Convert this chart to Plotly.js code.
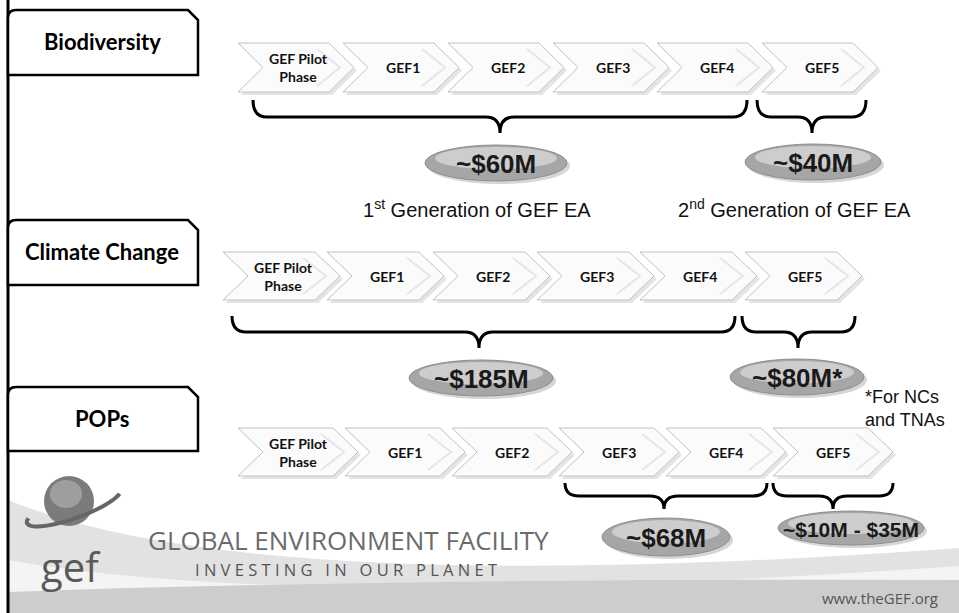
<!DOCTYPE html>
<html><head><meta charset="utf-8">
<script src="https://cdn.plot.ly/plotly-3.0.1.min.js"></script>
<style>html,body{margin:0;padding:0;background:#fff}#chart{width:959px;height:613px}</style>
</head><body><div id="chart"></div>
<script>
// ---------- data ----------
const sectors = ['Biodiversity', 'Climate Change', 'POPs'];
const phases = ['GEF Pilot<br>Phase', 'GEF1', 'GEF2', 'GEF3', 'GEF4', 'GEF5'];
const groupFirstPhase = [[0, 5], [0, 5], [3, 5]];
const groupLastPhase = [[4, 5], [4, 5], [4, 5]];
const fundingLabels = [['~$60M', '~$40M'], ['~$185M', '~$80M*'], ['~$68M', '~$10M - $35M']];
const generationLabels = ['1<sup>st</sup> Generation of GEF EA', '2<sup>nd</sup> Generation of GEF EA'];
const footnote = '*For NCs<br>and TNAs';
const orgName = 'GLOBAL ENVIRONMENT FACILITY';
const tagline = 'I N V E S T I N G   I N   O U R   P L A N E T';
const website = 'www.theGEF.org';
const logoText = 'gef';

// ---------- geometry (layout only) ----------
const boxY = [[10, 75], [220, 285], [387, 451]];
const rowY = [[43, 92], [252, 300], [428, 476]];
const rowLeft = [[238, 343, 448, 553, 657, 762], [223, 327, 433, 537, 640, 745], [238, 345, 452, 559, 666, 773]];
const bodyW = [91, 92, 95];
const notch = 25;
const braceX = [[[253, 747, 500], [757, 866, 812]], [[232, 735, 479], [742, 855, 798]], [[565, 767, 664], [773, 893, 833]]];
const braceY = [[100, 117, 133], [316, 332, 348], [483, 496, 509]];
const ellipse = [[[496, 163, 71, 18], [813, 162, 68, 18]], [[481, 378, 72, 18], [797, 377, 67, 18]], [[666, 537, 64, 19], [851, 528, 73, 17]]];

const shapes = [];
const ann = [];

// footer swoosh background
shapes.push({type: 'path', layer: 'below', path: 'M 8,500 Q 250,600 959,548 L 959,613 L 8,613 Z', fillcolor: '#e2e2e2', line: {width: 0}});
shapes.push({type: 'path', layer: 'below', path: 'M 8,560 Q 300,612 959,566 L 959,613 L 8,613 Z', fillcolor: '#f4f4f4', line: {width: 0}});
shapes.push({type: 'path', layer: 'below', path: 'M 8,592 Q 400,578 959,580 L 959,613 L 8,613 Z', fillcolor: '#cdcdcd', line: {width: 0}});

// left vertical rule
shapes.push({type: 'line', x0: 8, x1: 8, y0: 0, y1: 613, line: {color: '#000', width: 3}});

sectors.forEach((s, i) => {
  const [t, b] = boxY[i];
  shapes.push({type: 'path', path: `M 8,${b} L 8,${t + 8} Q 8,${t} 16,${t} L 188,${t} L 198,${t + 10} L 198,${b} Z`,
    fillcolor: '#fff', line: {color: '#000', width: 2.5}});
  ann.push({x: 102, y: (t + b) / 2 - 1, text: '<b>' + s + '</b>', font: {family: 'Lato, sans-serif', size: 22, color: '#000'}});

  const [T, B] = rowY[i];
  const M = (T + B) / 2;
  const W = bodyW[i];
  phases.forEach((p, j) => {
    const L = rowLeft[i][j];
    shapes.push({type: 'path', path: `M ${L + 3},${T + 3} L ${L + W + 3},${T + 3} L ${L + W + notch + 3},${M + 3} L ${L + W + 3},${B + 3} L ${L + 3},${B + 3} L ${L + notch + 3},${M + 3} Z`,
      fillcolor: '#e4e4e4', line: {width: 0}});
    shapes.push({type: 'path', path: `M ${L},${T} L ${L + W},${T} L ${L + W + notch},${M} L ${L + W},${B} L ${L},${B} L ${L + notch},${M} Z`,
      fillcolor: '#fbfbfb', line: {color: '#c2c2c2', width: 1}});
    shapes.push({type: 'path', path: `M ${L + W - 12},${T + 6} L ${L + W + notch - 14},${M} L ${L + W - 12},${B - 6}`,
      fillcolor: 'rgba(0,0,0,0)', line: {color: '#e6e6e6', width: 2}});
    ann.push({x: L + 60, y: M, text: '<b>' + p + '</b>', font: {family: 'Lato, sans-serif', size: 14, color: '#111'}});
  });

  groupFirstPhase[i].forEach((f, g) => {
    const [x1, x2, xc] = braceX[i][g];
    const [y1, ym, yt] = braceY[i];
    const r = 14;
    shapes.push({type: 'path', path: `M ${x1},${y1} Q ${x1},${ym} ${x1 + r},${ym} L ${xc - r},${ym} Q ${xc},${ym} ${xc},${yt} Q ${xc},${ym} ${xc + r},${ym} L ${x2 - r},${ym} Q ${x2},${ym} ${x2},${y1}`,
      fillcolor: 'rgba(0,0,0,0)', line: {color: '#000', width: 3}});
    const [cx, cy, rx, ry] = ellipse[i][g];
    shapes.push({type: 'circle', x0: cx - rx + 3, x1: cx + rx + 3, y0: cy - ry + 3, y1: cy + ry + 3, fillcolor: '#d6d6d6', line: {width: 0}});
    shapes.push({type: 'circle', x0: cx - rx, x1: cx + rx, y0: cy - ry, y1: cy + ry, fillcolor: '#a6a6a6', line: {color: '#8e8e8e', width: 1}});
    shapes.push({type: 'circle', x0: cx - rx + 10, x1: cx + rx - 10, y0: cy - ry + 2, y1: cy + ry * 0.35, fillcolor: '#d4d4d4', opacity: 0.85, line: {width: 0}});
    const lbl = fundingLabels[i][g];
    ann.push({x: cx, y: cy + 1, text: '<b>' + lbl + '</b>', font: {family: 'Liberation Sans, Arial, sans-serif', size: lbl.length > 8 ? 21 : 26, color: '#1a1a1a'}});
  });
});

// generation captions
ann.push({x: 477, y: 208, text: generationLabels[0], font: {family: 'Liberation Sans, Arial, sans-serif', size: 20, color: '#111'}});
ann.push({x: 794, y: 208, text: generationLabels[1], font: {family: 'Liberation Sans, Arial, sans-serif', size: 20, color: '#111'}});
ann.push({x: 863, y: 408, text: footnote, xanchor: 'left', align: 'left', font: {family: 'Liberation Sans, Arial, sans-serif', size: 18, color: '#111'}});

// logo
shapes.push({type: 'circle', x0: 44, x1: 94, y0: 476, y1: 526, fillcolor: '#7b7b7b', line: {width: 0}});
shapes.push({type: 'circle', x0: 50, x1: 82, y0: 480, y1: 508, fillcolor: '#a8a8a8', opacity: 0.8, line: {width: 0}});
(function () {
  const pts = [];
  const cx = 74, cy = 506, a = 50, b = 12, rot = -20 * Math.PI / 180;
  for (let k = 20; k <= 200; k += 5) {
    const t = k * Math.PI / 180;
    const ex = a * Math.cos(t), ey = b * Math.sin(t);
    pts.push([cx + ex * Math.cos(rot) - ey * Math.sin(rot), cy + ex * Math.sin(rot) + ey * Math.cos(rot)]);
  }
  shapes.push({type: 'path', path: 'M ' + pts.map(p => p[0].toFixed(1) + ',' + p[1].toFixed(1)).join(' L '),
    fillcolor: 'rgba(0,0,0,0)', line: {color: '#666', width: 4}});
})();
ann.push({x: 71, y: 566, text: logoText, font: {family: 'Open Sans, sans-serif', size: 40, color: '#595959'}});
ann.push({x: 348, y: 540, text: orgName, font: {family: 'Open Sans, sans-serif', size: 26, color: '#6b6b6b'}});
ann.push({x: 346, y: 569, text: tagline, font: {family: 'Open Sans, sans-serif', size: 16.5, color: '#555'}});
ann.push({x: 880, y: 598, text: website, font: {family: 'Open Sans, sans-serif', size: 15, color: '#555'}});

ann.forEach(a => { a.xref = 'x'; a.yref = 'y'; a.showarrow = false; });

Plotly.newPlot('chart', [{x: [], y: [], type: 'scatter', hoverinfo: 'skip'}], {
  width: 959, height: 613,
  margin: {l: 0, r: 0, t: 0, b: 0},
  paper_bgcolor: '#fff', plot_bgcolor: '#fff',
  showlegend: false,
  xaxis: {range: [0, 959], visible: false, fixedrange: true},
  yaxis: {range: [613, 0], visible: false, fixedrange: true},
  shapes: shapes, annotations: ann
}, {displayModeBar: false, staticPlot: true});
</script></body></html>
